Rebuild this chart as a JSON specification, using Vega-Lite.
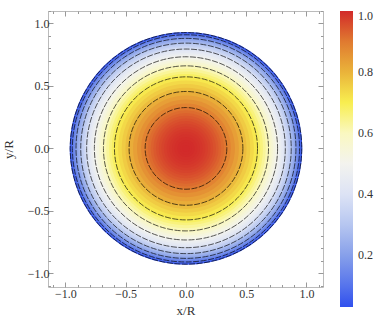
{
  "$schema": "https://vega.github.io/schema/vega-lite/v6.json",
  "autosize": {"type": "none"},
  "padding": {"left": 48, "top": 11, "right": 59, "bottom": 48},
  "width": 275,
  "height": 276,
  "background": "white",
  "config": {
    "view": {"stroke": "#bbbbbb", "strokeWidth": 1},
    "font": "Liberation Serif",
    "axis": {
      "domain": false,
      "grid": false,
      "tickColor": "#999999",
      "labelFont": "Liberation Serif",
      "labelFontSize": 12,
      "labelColor": "#333333",
      "titleFont": "Liberation Serif",
      "titleFontSize": 13,
      "titleFontWeight": "normal",
      "titleColor": "#333333"
    },
    "legend": {
      "labelFont": "Liberation Serif",
      "labelFontSize": 12,
      "labelColor": "#333333"
    }
  },
  "datasets": {
    "rings": [
      {"x": 0, "y": 0, "r": 0.963, "v": 0.04},
      {"x": 0, "y": 0, "r": 0.957, "v": 0.06},
      {"x": 0, "y": 0, "r": 0.951, "v": 0.08},
      {"x": 0, "y": 0, "r": 0.945, "v": 0.10},
      {"x": 0, "y": 0, "r": 0.940, "v": 0.12},
      {"x": 0, "y": 0, "r": 0.933, "v": 0.14},
      {"x": 0, "y": 0, "r": 0.926, "v": 0.16},
      {"x": 0, "y": 0, "r": 0.919, "v": 0.18},
      {"x": 0, "y": 0, "r": 0.910, "v": 0.21},
      {"x": 0, "y": 0, "r": 0.900, "v": 0.23},
      {"x": 0, "y": 0, "r": 0.891, "v": 0.25},
      {"x": 0, "y": 0, "r": 0.881, "v": 0.27},
      {"x": 0, "y": 0, "r": 0.871, "v": 0.31},
      {"x": 0, "y": 0, "r": 0.859, "v": 0.33},
      {"x": 0, "y": 0, "r": 0.846, "v": 0.355},
      {"x": 0, "y": 0, "r": 0.834, "v": 0.38},
      {"x": 0, "y": 0, "r": 0.822, "v": 0.41},
      {"x": 0, "y": 0, "r": 0.806, "v": 0.435},
      {"x": 0, "y": 0, "r": 0.790, "v": 0.46},
      {"x": 0, "y": 0, "r": 0.774, "v": 0.485},
      {"x": 0, "y": 0, "r": 0.758, "v": 0.51},
      {"x": 0, "y": 0, "r": 0.739, "v": 0.535},
      {"x": 0, "y": 0, "r": 0.720, "v": 0.56},
      {"x": 0, "y": 0, "r": 0.702, "v": 0.585},
      {"x": 0, "y": 0, "r": 0.683, "v": 0.61},
      {"x": 0, "y": 0, "r": 0.660, "v": 0.635},
      {"x": 0, "y": 0, "r": 0.637, "v": 0.66},
      {"x": 0, "y": 0, "r": 0.615, "v": 0.685},
      {"x": 0, "y": 0, "r": 0.592, "v": 0.71},
      {"x": 0, "y": 0, "r": 0.562, "v": 0.735},
      {"x": 0, "y": 0, "r": 0.532, "v": 0.76},
      {"x": 0, "y": 0, "r": 0.501, "v": 0.785},
      {"x": 0, "y": 0, "r": 0.471, "v": 0.81},
      {"x": 0, "y": 0, "r": 0.438, "v": 0.835},
      {"x": 0, "y": 0, "r": 0.405, "v": 0.86},
      {"x": 0, "y": 0, "r": 0.371, "v": 0.885},
      {"x": 0, "y": 0, "r": 0.338, "v": 0.905},
      {"x": 0, "y": 0, "r": 0.315, "v": 0.918},
      {"x": 0, "y": 0, "r": 0.292, "v": 0.93},
      {"x": 0, "y": 0, "r": 0.270, "v": 0.941},
      {"x": 0, "y": 0, "r": 0.248, "v": 0.951},
      {"x": 0, "y": 0, "r": 0.226, "v": 0.96},
      {"x": 0, "y": 0, "r": 0.204, "v": 0.968},
      {"x": 0, "y": 0, "r": 0.182, "v": 0.975},
      {"x": 0, "y": 0, "r": 0.160, "v": 0.981},
      {"x": 0, "y": 0, "r": 0.138, "v": 0.986},
      {"x": 0, "y": 0, "r": 0.116, "v": 0.990},
      {"x": 0, "y": 0, "r": 0.094, "v": 0.994},
      {"x": 0, "y": 0, "r": 0.072, "v": 0.997},
      {"x": 0, "y": 0, "r": 0.050, "v": 0.999},
      {"x": 0, "y": 0, "r": 0.028, "v": 1.0}
    ],
    "contours": [
      {"x": 0, "y": 0, "r": 0.958, "level": 0.05},
      {"x": 0, "y": 0, "r": 0.940, "level": 0.1},
      {"x": 0, "y": 0, "r": 0.910, "level": 0.2},
      {"x": 0, "y": 0, "r": 0.871, "level": 0.3},
      {"x": 0, "y": 0, "r": 0.822, "level": 0.4},
      {"x": 0, "y": 0, "r": 0.758, "level": 0.5},
      {"x": 0, "y": 0, "r": 0.683, "level": 0.6},
      {"x": 0, "y": 0, "r": 0.592, "level": 0.7},
      {"x": 0, "y": 0, "r": 0.471, "level": 0.8},
      {"x": 0, "y": 0, "r": 0.338, "level": 0.9}
    ]
  },
  "layer": [
    {
      "data": {"name": "rings"},
      "mark": {"type": "point", "shape": "circle", "filled": true, "opacity": 1, "strokeWidth": 0},
      "encoding": {
        "x": {
          "field": "x", "type": "quantitative",
          "scale": {"domain": [-1.145, 1.137], "nice": false, "zero": false},
          "axis": {
            "title": "x/R",
            "titlePadding": 3,
            "values": [-1.1, -1.0, -0.9, -0.8, -0.7, -0.6, -0.5, -0.4, -0.3, -0.2, -0.1, 0, 0.1, 0.2, 0.3, 0.4, 0.5, 0.6, 0.7, 0.8, 0.9, 1.0, 1.1],
            "labelExpr": "abs(datum.value*2 - round(datum.value*2)) < 0.001 ? format(datum.value, '.1f') : ''",
            "tickSize": {"condition": {"test": "abs(datum.value*2 - round(datum.value*2)) < 0.001", "value": -5}, "value": -2.5},
            "labelPadding": 6,
            "labelFlush": false,
            "labelOverlap": false
          }
        },
        "y": {
          "field": "y", "type": "quantitative",
          "scale": {"domain": [-1.11, 1.1], "nice": false, "zero": false},
          "axis": {
            "title": "y/R",
            "titlePadding": 12,
            "values": [-1.1, -1.0, -0.9, -0.8, -0.7, -0.6, -0.5, -0.4, -0.3, -0.2, -0.1, 0, 0.1, 0.2, 0.3, 0.4, 0.5, 0.6, 0.7, 0.8, 0.9, 1.0, 1.1],
            "labelExpr": "abs(datum.value*2 - round(datum.value*2)) < 0.001 ? format(datum.value, '.1f') : ''",
            "tickSize": {"condition": {"test": "abs(datum.value*2 - round(datum.value*2)) < 0.001", "value": -5}, "value": -2.5},
            "labelPadding": 4,
            "labelFlush": false,
            "labelOverlap": false
          }
        },
        "size": {
          "field": "r", "type": "quantitative",
          "scale": {"type": "pow", "exponent": 2, "domain": [0, 1], "range": [0, 58410]},
          "legend": null
        },
        "color": {
          "field": "v", "type": "quantitative",
          "scale": {
            "domain": [0.03, 0.1, 0.2, 0.3, 0.4, 0.5, 0.6, 0.7, 0.8, 0.9, 1.0],
            "range": ["#3050EE", "#5674EC", "#87A0EA", "#B6C6F0", "#DDE3F5", "#F3F3EE", "#FAF8C0", "#F8EE50", "#EAB33A", "#E07A30", "#D22A2A"],
            "interpolate": "rgb"
          },
          "legend": {
            "title": null,
            "orient": "right",
            "offset": 16,
            "gradientLength": 296,
            "gradientThickness": 13,
            "gradientStrokeWidth": 0,
            "values": [0.2, 0.4, 0.6, 0.8, 1.0],
            "format": ".1f",
            "labelOffset": 5,
            "labelBaseline": "middle"
          }
        },
        "order": {"field": "r", "sort": "descending"}
      }
    },
    {
      "data": {"name": "contours"},
      "mark": {"type": "point", "shape": "circle", "filled": false, "stroke": "#000000", "strokeWidth": 1, "strokeDash": [6, 1.5], "opacity": 0.65},
      "encoding": {
        "x": {"field": "x", "type": "quantitative", "axis": null},
        "y": {"field": "y", "type": "quantitative", "axis": null},
        "size": {
          "field": "r", "type": "quantitative",
          "scale": {"type": "pow", "exponent": 2, "domain": [0, 1], "range": [0, 58410]},
          "legend": null
        }
      }
    },
    {
      "data": {"name": "contours"},
      "mark": {"type": "point", "opacity": 0},
      "encoding": {
        "x": {
          "field": "x", "type": "quantitative",
          "axis": {
            "orient": "top", "title": null, "labels": false,
            "values": [-1.1, -1.0, -0.9, -0.8, -0.7, -0.6, -0.5, -0.4, -0.3, -0.2, -0.1, 0, 0.1, 0.2, 0.3, 0.4, 0.5, 0.6, 0.7, 0.8, 0.9, 1.0, 1.1],
            "tickSize": {"condition": {"test": "abs(datum.value*2 - round(datum.value*2)) < 0.001", "value": -5}, "value": -2.5}
          }
        },
        "y": {
          "field": "y", "type": "quantitative",
          "axis": {
            "orient": "right", "title": null, "labels": false,
            "values": [-1.1, -1.0, -0.9, -0.8, -0.7, -0.6, -0.5, -0.4, -0.3, -0.2, -0.1, 0, 0.1, 0.2, 0.3, 0.4, 0.5, 0.6, 0.7, 0.8, 0.9, 1.0, 1.1],
            "tickSize": {"condition": {"test": "abs(datum.value*2 - round(datum.value*2)) < 0.001", "value": -5}, "value": -2.5}
          }
        }
      }
    }
  ],
  "resolve": {"axis": {"x": "independent", "y": "independent"}}
}
